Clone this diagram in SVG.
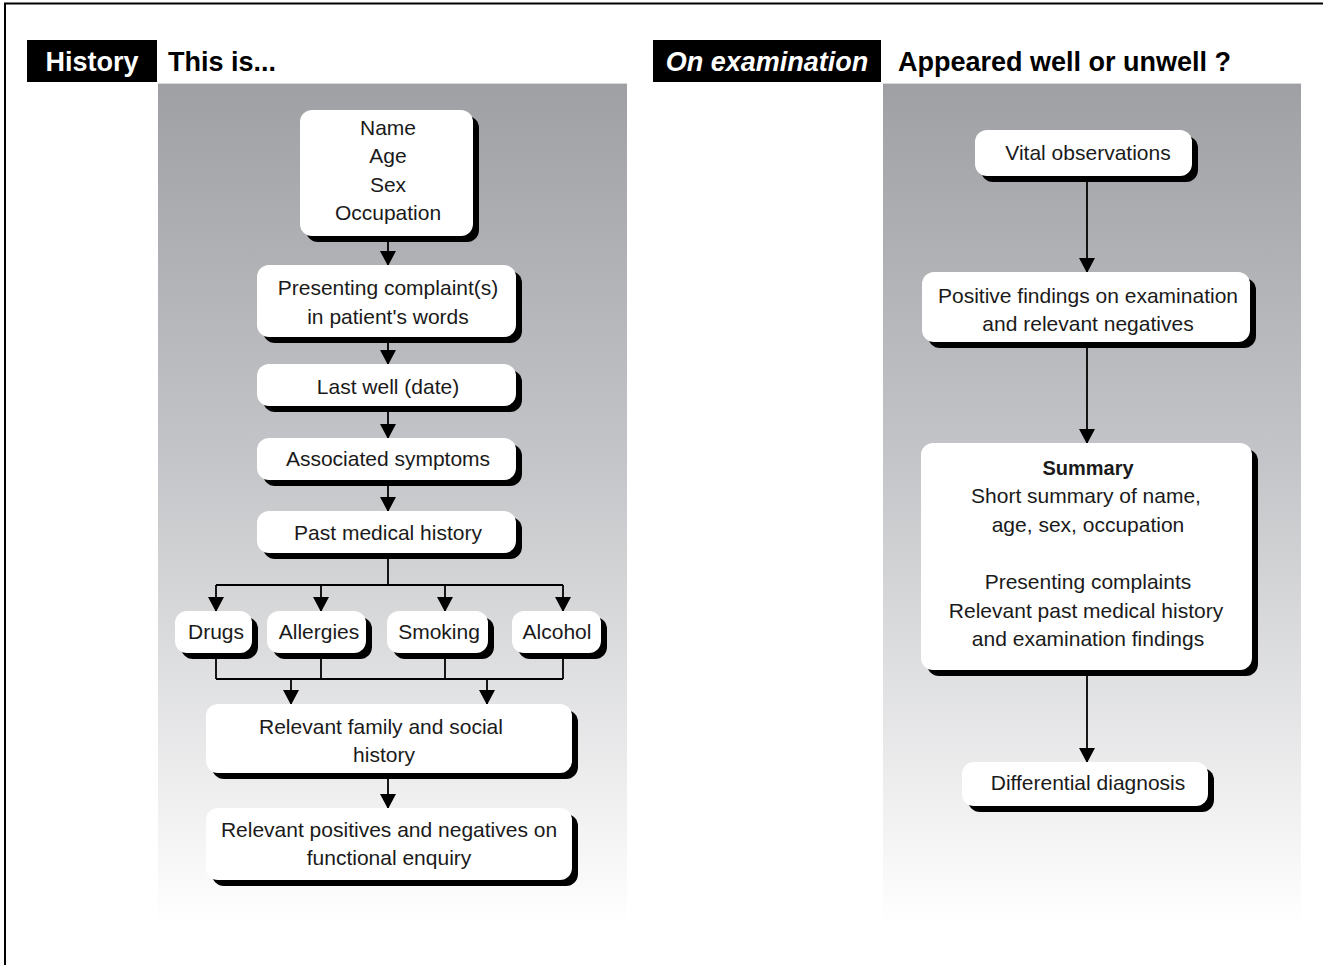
<svg xmlns="http://www.w3.org/2000/svg" width="1323" height="965" viewBox="0 0 1323 965">
  <defs>
    <linearGradient id="panelFill" x1="0" y1="0" x2="0" y2="1">
      <stop offset="0" stop-color="#9fa0a4"/>
      <stop offset="0.45" stop-color="#c4c5c8"/>
      <stop offset="1" stop-color="#ffffff"/>
    </linearGradient>
    <!-- filled triangle pointing along the line direction -->
    <marker id="arrow" viewBox="0 0 15 16" refX="15" refY="8" markerWidth="15" markerHeight="16" markerUnits="userSpaceOnUse" orient="auto">
      <path d="M0,0 L15,8 L0,16 Z" fill="#000"/>
    </marker>
  </defs>
  <style>
    .frame { stroke: #000; stroke-width: 2; fill: none; }
    .tag { fill: #000; }
    .tagText { font-family: "Liberation Sans", Arial, sans-serif; font-weight: bold; font-size: 27px; fill: #fff; }
    .headText { font-family: "Liberation Sans", Arial, sans-serif; font-weight: bold; font-size: 27px; fill: #000; }
    .shadow { fill: #000; }
    .box { fill: #fff; }
    .label { font-family: "Liberation Sans", Arial, sans-serif; font-size: 21px; fill: #1a1a1a; text-anchor: middle; }
    .bold { font-weight: bold; font-size: 20px; }
    .wire { stroke: #000; stroke-width: 1.8; fill: none; }
    .arrowed { marker-end: url(#arrow); }
  </style>

  <!-- page frame (top and left edges) -->
  <path class="frame" d="M5,965 V3.5 H1323"/>

  <!-- shaded panels -->
  <rect x="158" y="83" width="469" height="842" fill="url(#panelFill)"/>
  <rect x="883" y="83" width="418" height="842" fill="url(#panelFill)"/>
  <line x1="158" y1="83.5" x2="627" y2="83.5" stroke="#d8d8d8" stroke-width="1"/>
  <line x1="883" y1="83.5" x2="1301" y2="83.5" stroke="#d8d8d8" stroke-width="1"/>

  <!-- headings -->
  <g id="heading-history">
    <rect class="tag" x="27" y="40" width="130" height="42"/>
    <text class="tagText" x="92" y="71" text-anchor="middle">History</text>
    <text class="headText" x="168" y="71">This is...</text>
  </g>
  <g id="heading-examination">
    <rect class="tag" x="653" y="40" width="228" height="42"/>
    <text class="tagText" x="767" y="71" text-anchor="middle" font-style="italic">On examination</text>
    <text class="headText" x="898" y="71">Appeared well or unwell ?</text>
  </g>

  <!-- connectors -->
  <g id="connectors">
    <line class="wire arrowed" x1="388" y1="242" x2="388" y2="266"/>
    <line class="wire arrowed" x1="388" y1="343" x2="388" y2="365"/>
    <line class="wire arrowed" x1="388" y1="412" x2="388" y2="439"/>
    <line class="wire arrowed" x1="388" y1="486" x2="388" y2="512"/>
    <path class="wire" d="M388,559 V585 M216,585 H563"/>
    <line class="wire arrowed" x1="216" y1="585" x2="216" y2="612"/>
    <line class="wire arrowed" x1="321" y1="585" x2="321" y2="612"/>
    <line class="wire arrowed" x1="445" y1="585" x2="445" y2="612"/>
    <line class="wire arrowed" x1="563" y1="585" x2="563" y2="612"/>
    <path class="wire" d="M216,659 V679 M321,659 V679 M445,659 V679 M563,659 V679 M216,679 H563"/>
    <line class="wire arrowed" x1="291" y1="679" x2="291" y2="705"/>
    <line class="wire arrowed" x1="487" y1="679" x2="487" y2="705"/>
    <line class="wire arrowed" x1="388" y1="779" x2="388" y2="809"/>

    <line class="wire arrowed" x1="1087" y1="182" x2="1087" y2="273"/>
    <line class="wire arrowed" x1="1087" y1="348" x2="1087" y2="444"/>
    <line class="wire arrowed" x1="1087" y1="676" x2="1087" y2="763"/>
  </g>

  <!-- history nodes -->
  <g id="node-identity">
    <rect class="shadow" x="306" y="116" width="173" height="126" rx="12"/>
    <rect class="box" x="300" y="110" width="173" height="126" rx="12"/>
    <text class="label" x="388" y="135">Name</text>
    <text class="label" x="388" y="163">Age</text>
    <text class="label" x="388" y="192">Sex</text>
    <text class="label" x="388" y="220">Occupation</text>
  </g>
  <g id="node-complaint">
    <rect class="shadow" x="263" y="271" width="259" height="72" rx="12"/>
    <rect class="box" x="257" y="265" width="259" height="72" rx="12"/>
    <text class="label" x="388" y="295">Presenting complaint(s)</text>
    <text class="label" x="388" y="324">in patient's words</text>
  </g>
  <g id="node-lastwell">
    <rect class="shadow" x="263" y="370" width="259" height="42" rx="12"/>
    <rect class="box" x="257" y="364" width="259" height="42" rx="12"/>
    <text class="label" x="388" y="394">Last well (date)</text>
  </g>
  <g id="node-symptoms">
    <rect class="shadow" x="263" y="444" width="259" height="42" rx="12"/>
    <rect class="box" x="257" y="438" width="259" height="42" rx="12"/>
    <text class="label" x="388" y="466">Associated symptoms</text>
  </g>
  <g id="node-pmh">
    <rect class="shadow" x="263" y="517" width="259" height="42" rx="12"/>
    <rect class="box" x="257" y="511" width="259" height="42" rx="12"/>
    <text class="label" x="388" y="540">Past medical history</text>
  </g>
  <g id="node-drugs">
    <rect class="shadow" x="181" y="617" width="77" height="42" rx="12"/>
    <rect class="box" x="175" y="611" width="77" height="42" rx="12"/>
    <text class="label" x="216" y="639">Drugs</text>
  </g>
  <g id="node-allergies">
    <rect class="shadow" x="273" y="617" width="99" height="42" rx="12"/>
    <rect class="box" x="267" y="611" width="99" height="42" rx="12"/>
    <text class="label" x="319" y="639">Allergies</text>
  </g>
  <g id="node-smoking">
    <rect class="shadow" x="393" y="617" width="101" height="42" rx="12"/>
    <rect class="box" x="387" y="611" width="101" height="42" rx="12"/>
    <text class="label" x="439" y="639">Smoking</text>
  </g>
  <g id="node-alcohol">
    <rect class="shadow" x="518" y="617" width="89" height="42" rx="12"/>
    <rect class="box" x="512" y="611" width="89" height="42" rx="12"/>
    <text class="label" x="557" y="639">Alcohol</text>
  </g>
  <g id="node-family">
    <rect class="shadow" x="212" y="710" width="366" height="69" rx="12"/>
    <rect class="box" x="206" y="704" width="366" height="69" rx="12"/>
    <text class="label" x="381" y="734">Relevant family and social</text>
    <text class="label" x="384" y="762">history</text>
  </g>
  <g id="node-enquiry">
    <rect class="shadow" x="212" y="814" width="366" height="72" rx="12"/>
    <rect class="box" x="206" y="808" width="366" height="72" rx="12"/>
    <text class="label" x="389" y="837">Relevant positives and negatives on</text>
    <text class="label" x="389" y="865">functional enquiry</text>
  </g>

  <!-- examination nodes -->
  <g id="node-vitals">
    <rect class="shadow" x="981" y="136" width="217" height="46" rx="12"/>
    <rect class="box" x="975" y="130" width="217" height="46" rx="12"/>
    <text class="label" x="1088" y="160">Vital observations</text>
  </g>
  <g id="node-findings">
    <rect class="shadow" x="928" y="278" width="328" height="70" rx="12"/>
    <rect class="box" x="922" y="272" width="328" height="70" rx="12"/>
    <text class="label" x="1088" y="303">Positive findings on examination</text>
    <text class="label" x="1088" y="331">and relevant negatives</text>
  </g>
  <g id="node-summary">
    <rect class="shadow" x="927" y="449" width="331" height="227" rx="12"/>
    <rect class="box" x="921" y="443" width="331" height="227" rx="12"/>
    <text class="label bold" x="1088" y="475">Summary</text>
    <text class="label" x="1086" y="503">Short summary of name,</text>
    <text class="label" x="1088" y="532">age, sex, occupation</text>
    <text class="label" x="1088" y="589">Presenting complaints</text>
    <text class="label" x="1086" y="618">Relevant past medical history</text>
    <text class="label" x="1088" y="646">and examination findings</text>
  </g>
  <g id="node-diagnosis">
    <rect class="shadow" x="968" y="768" width="246" height="44" rx="12"/>
    <rect class="box" x="962" y="762" width="246" height="44" rx="12"/>
    <text class="label" x="1088" y="790">Differential diagnosis</text>
  </g>
</svg>
